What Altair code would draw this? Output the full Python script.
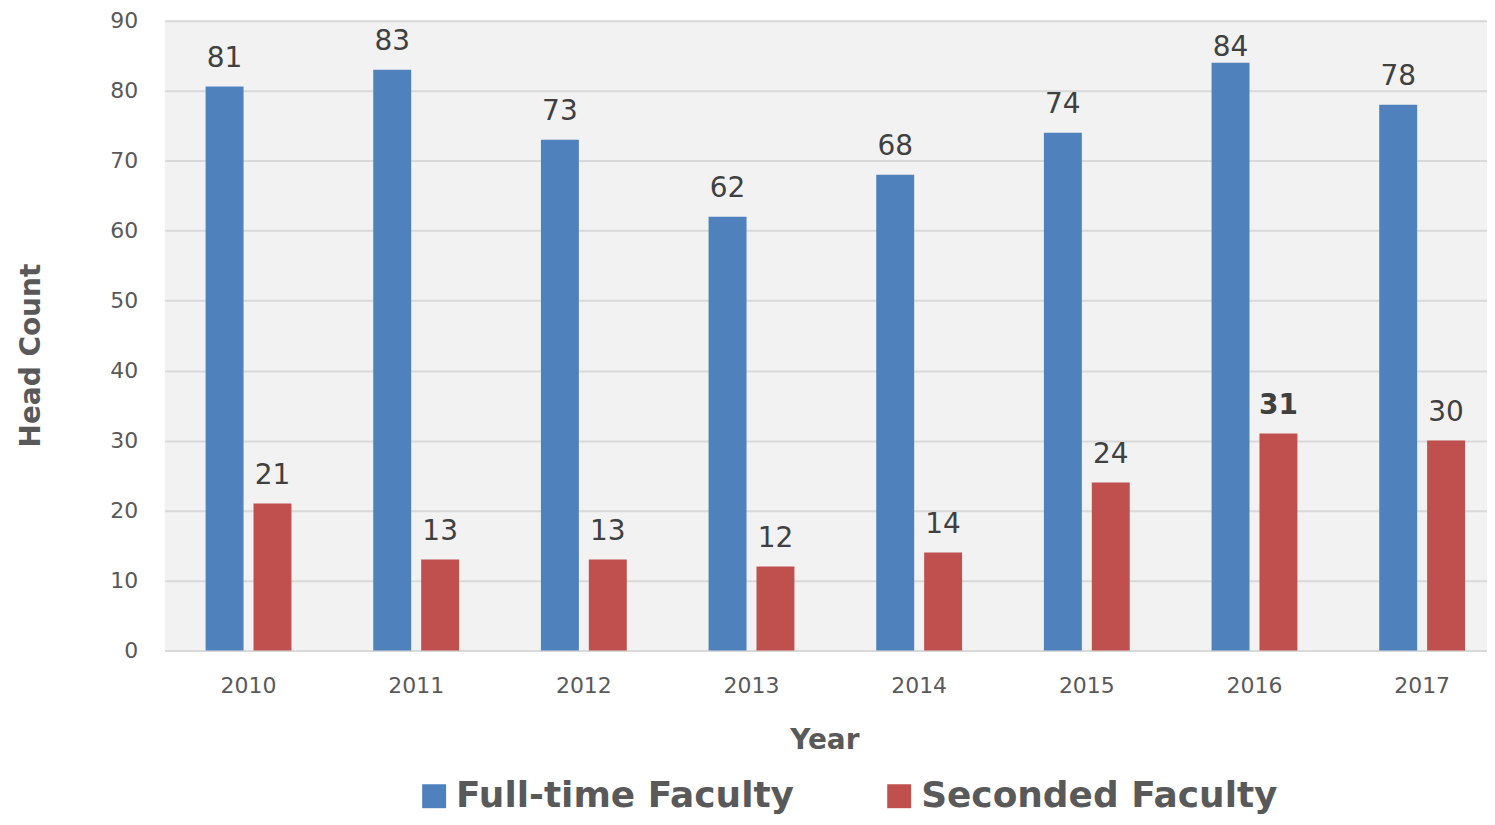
import altair as alt
import pandas as pd

years = ["2010", "2011", "2012", "2013", "2014", "2015", "2016", "2017"]
full_time = [80.6, 83, 73, 62, 68, 74, 84, 78]
seconded = [21, 13, 13, 12, 14, 24, 31, 30]
series = ["Full-time Faculty", "Seconded Faculty"]
colors = ["#4f81bd", "#c0504d"]
y_ticks = [0, 10, 20, 30, 40, 50, 60, 70, 80, 90]

rows = []
for i, yr in enumerate(years):
    rows.append({"Year": yr, "Series": series[0], "Count": full_time[i]})
    rows.append({"Year": yr, "Series": series[1], "Count": seconded[i]})
df = pd.DataFrame(rows)

FONT = "DejaVu Sans"
AXIS_COLOR = "#595959"

x_enc = alt.X(
    "Year:N",
    sort=years,
    scale=alt.Scale(paddingInner=0.488, paddingOuter=0.18745, align=0.651),
    axis=alt.Axis(
        labelAngle=0, labelFontSize=22, labelColor=AXIS_COLOR, labelFont=FONT,
        ticks=False, domain=False, grid=False, labelPadding=25,
        title="Year", titleFontSize=28, titleFontWeight="bold", titleColor=AXIS_COLOR,
        titleFont=FONT, titleX=661, titleY=90, titleAlign="center", titleBaseline="middle",
    ),
)
y_enc = alt.Y(
    "Count:Q",
    scale=alt.Scale(domain=[0, 90], nice=False),
    axis=alt.Axis(
        values=y_ticks, grid=True, gridColor="#d9d9d9", gridWidth=2,
        domain=False, ticks=False, labelPadding=27, labelFontSize=22,
        labelColor=AXIS_COLOR, labelFont=FONT,
        title="Head Count", titleFontSize=28, titleFontWeight="bold", titleColor=AXIS_COLOR,
        titleFont=FONT, titleAngle=270, titleX=-133, titleY=335,
        titleAlign="center", titleBaseline="middle",
    ),
)
xoff = alt.XOffset("Series:N", sort=series, scale=alt.Scale(paddingInner=0.208, paddingOuter=0))

base = alt.Chart(df)

bars = base.mark_bar().encode(
    x=x_enc,
    xOffset=xoff,
    y=y_enc,
    color=alt.Color(
        "Series:N",
        sort=series,
        scale=alt.Scale(domain=series, range=colors),
        legend=alt.Legend(
            orient="none", legendX=252, legendY=759, direction="horizontal", title=None,
            symbolType="square", symbolSize=576, symbolStrokeWidth=0,
            labelFontSize=36, labelFontWeight="bold", labelColor=AXIS_COLOR, labelFont=FONT,
            labelOffset=4, columnPadding=87, padding=0, labelLimit=1000,
        ),
    ),
)

# Excel keeps the outside-end labels inside the plot area: the tallest one sits lower
label_base = base.transform_calculate(
    labY="datum.Count > 83.5 ? 82.1 : datum.Count"
)

labels = label_base.transform_filter(
    "!(datum.Year == '2016' && datum.Series == 'Seconded Faculty')"
).mark_text(baseline="alphabetic", dy=-20, fontSize=28, color="#404040", font=FONT).encode(
    x=alt.X("Year:N", sort=years),
    xOffset=alt.XOffset("Series:N", sort=series),
    y=alt.Y("labY:Q"),
    text=alt.Text("Count:Q", format=".0f"),
)

labels_bold = label_base.transform_filter(
    "datum.Year == '2016' && datum.Series == 'Seconded Faculty'"
).mark_text(baseline="alphabetic", dy=-20, fontSize=28, fontWeight="bold", color="#404040", font=FONT).encode(
    x=alt.X("Year:N", sort=years),
    xOffset=alt.XOffset("Series:N", sort=series),
    y=alt.Y("labY:Q"),
    text=alt.Text("Count:Q", format=".0f"),
)

chart = alt.layer(bars, labels, labels_bold).properties(
    width=1325,
    height=631,
    padding={"left": 157, "top": 12, "right": 0, "bottom": 166},
    autosize=alt.AutoSizeParams(type="none"),
    background="white",
).configure_view(fill="#f2f2f2", stroke=None)

chart.save("out.html", embed_options={"renderer": "svg", "actions": False})
